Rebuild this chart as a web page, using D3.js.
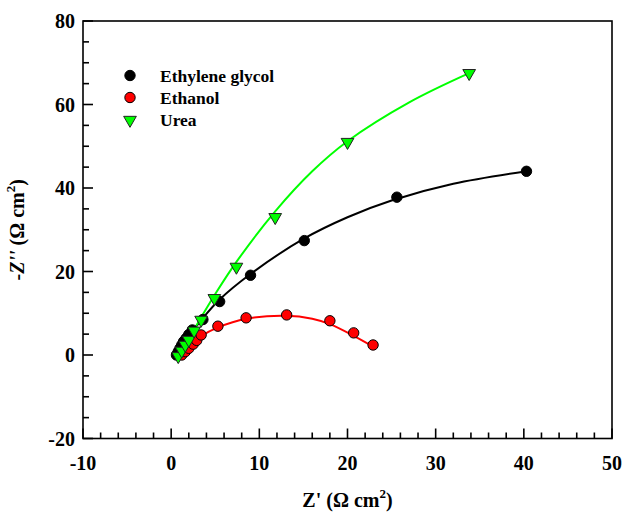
<!DOCTYPE html>
<html>
<head>
<meta charset="utf-8">
<script src="https://cdn.jsdelivr.net/npm/d3@7/dist/d3.min.js"></script>
<style>
  html, body { margin: 0; padding: 0; background: #fff; }
  svg { display: block; }
  text { font-family: "Liberation Serif", "Times New Roman", serif; font-weight: bold; fill: #000; }
</style>
</head>
<body>
<svg id="chart" width="625" height="518"></svg>
<script>
// ---- data ----
const seriesNames = ["Ethylene glycol", "Ethanol", "Urea"];

const glycolX = [0.6, 0.8, 1.0, 1.2, 1.4, 1.7, 2.0, 2.4, 3.6, 5.5, 9.0, 15.1, 25.6, 40.3];
const glycolY = [0.0, 0.8, 1.6, 2.4, 3.2, 4.0, 4.9, 6.0, 8.5, 12.8, 19.1, 27.4, 37.8, 44.0];

const ethanolX = [1.2, 1.6, 2.0, 2.5, 2.9, 3.4, 5.3, 8.5, 13.1, 18.0, 20.7, 22.9];
const ethanolY = [0.0, 0.8, 1.6, 2.6, 3.5, 4.8, 6.9, 8.9, 9.6, 8.2, 5.3, 2.4];

const ureaX = [0.8, 1.2, 1.6, 2.0, 2.6, 3.4, 4.9, 7.4, 11.8, 20.0, 33.8];
const ureaY = [-0.3, 1.0, 2.4, 3.6, 5.8, 8.4, 13.6, 21.1, 33.0, 51.0, 67.5];

// fitted curves
const glycolFitX = [0.6, 1.0, 2.0, 3.5, 5.5, 9.0, 15.0, 20.0, 25.0, 32.0, 40.3];
const glycolFitY = [0.0, 0.9, 4.4, 8.6, 13.3, 19.4, 27.8, 33.0, 37.0, 41.0, 44.0];

const ethanolFitX = [1.0, 2.0, 3.4, 5.3, 8.5, 13.0, 16.0, 18.0, 20.7, 23.0];
const ethanolFitY = [0.0, 2.2, 4.5, 6.6, 8.7, 9.4, 8.7, 7.4, 4.6, 1.9];

const ureaFitX = [0.7, 2.0, 3.4, 5.0, 7.4, 11.8, 16.0, 20.0, 27.0, 33.8];
const ureaFitY = [0.0, 4.0, 9.0, 14.6, 22.3, 34.4, 44.0, 51.2, 60.5, 67.5];

const xTicks = [-10, 0, 10, 20, 30, 40, 50];
const yTicks = [-20, 0, 20, 40, 60, 80];

// ---- layout ----
const svg = d3.select("#chart");
const L = 83, R = 612, T = 21, B = 438.5;
const x = d3.scaleLinear().domain([-10, 50]).range([L, R]);
const y = d3.scaleLinear().domain([-20, 80]).range([B, T]);

// frame
svg.append("rect").attr("x", L).attr("y", T).attr("width", R - L).attr("height", B - T)
  .attr("fill", "none").attr("stroke", "#000").attr("stroke-width", 1.6);

// x axis ticks (inward)
const xMinor = d3.range(-10, 50.001, 2);
svg.append("g").selectAll("line").data(xMinor).join("line")
  .attr("x1", d => x(d)).attr("x2", d => x(d))
  .attr("y1", B).attr("y2", d => xTicks.includes(Math.round(d)) ? B - 10 : B - 6)
  .attr("stroke", "#000").attr("stroke-width", 1.6);
svg.append("g").selectAll("text").data(xTicks).join("text")
  .attr("x", d => x(d)).attr("y", 470).attr("text-anchor", "middle")
  .attr("font-size", 20).text(d => d);

// y axis ticks (inward)
const yMinor = d3.range(-20, 80.001, 5);
svg.append("g").selectAll("line").data(yMinor).join("line")
  .attr("y1", d => y(d)).attr("y2", d => y(d))
  .attr("x1", L).attr("x2", d => yTicks.includes(Math.round(d)) ? L + 10 : L + 6)
  .attr("stroke", "#000").attr("stroke-width", 1.6);
svg.append("g").selectAll("text").data(yTicks).join("text")
  .attr("x", L - 8).attr("y", d => y(d) + 7).attr("text-anchor", "end")
  .attr("font-size", 20).text(d => d);

// axis titles
const xt = svg.append("text").attr("x", (L + R) / 2).attr("y", 507).attr("text-anchor", "middle").attr("font-size", 20);
xt.append("tspan").text("Z' (Ω cm");
xt.append("tspan").attr("font-size", 13).attr("dy", -9).text("2");
xt.append("tspan").attr("dy", 9).text(")");

const yt = svg.append("text").attr("transform", `translate(24,${(T + B) / 2}) rotate(-90)`)
  .attr("text-anchor", "middle").attr("font-size", 20);
yt.append("tspan").text("-");
yt.append("tspan").attr("font-style", "italic").text("Z''");
yt.append("tspan").text(" (Ω cm");
yt.append("tspan").attr("font-size", 13).attr("dy", -9).text("2");
yt.append("tspan").attr("dy", 9).text(")");

// fitted lines
const line = d3.line().x(d => x(d[0])).y(d => y(d[1])).curve(d3.curveCatmullRom.alpha(0.5));
const fits = [
  { xs: glycolFitX, ys: glycolFitY, color: "#000000" },
  { xs: ethanolFitX, ys: ethanolFitY, color: "#ff0000" },
  { xs: ureaFitX, ys: ureaFitY, color: "#00ff00" }
];
fits.forEach(f => {
  svg.append("path").datum(f.xs.map((v, i) => [v, f.ys[i]]))
    .attr("d", line).attr("fill", "none").attr("stroke", f.color).attr("stroke-width", 2);
});

// markers
const circleR = 5.2;
function drawCircles(xs, ys, fill) {
  svg.append("g").selectAll("circle").data(xs.map((v, i) => [v, ys[i]])).join("circle")
    .attr("cx", d => x(d[0])).attr("cy", d => y(d[1])).attr("r", circleR)
    .attr("fill", fill).attr("stroke", "#000").attr("stroke-width", 1);
}
const tri = d3.symbol().type(d3.symbolTriangle).size(70);
function drawTris(xs, ys, fill) {
  svg.append("g").selectAll("path").data(xs.map((v, i) => [v, ys[i]])).join("path")
    .attr("d", tri).attr("transform", d => `translate(${x(d[0])},${y(d[1])}) rotate(180)`)
    .attr("fill", fill).attr("stroke", "#222").attr("stroke-width", 1);
}
drawCircles(glycolX, glycolY, "#000000");
drawCircles(ethanolX, ethanolY, "#ff0000");
drawTris(ureaX, ureaY, "#00ff00");

// legend
const legY = [75.5, 97.5, 120];
svg.append("circle").attr("cx", 130).attr("cy", legY[0]).attr("r", circleR).attr("fill", "#000").attr("stroke", "#000");
svg.append("circle").attr("cx", 130).attr("cy", legY[1]).attr("r", circleR).attr("fill", "#ff0000").attr("stroke", "#000");
svg.append("path").attr("d", tri).attr("transform", `translate(130,${legY[2]}) rotate(180)`)
  .attr("fill", "#00ff00").attr("stroke", "#222");
seriesNames.forEach((n, i) => {
  svg.append("text").attr("x", 160).attr("y", legY[i] + 6).attr("font-size", 17.5).text(n);
});
</script>
</body>
</html>
